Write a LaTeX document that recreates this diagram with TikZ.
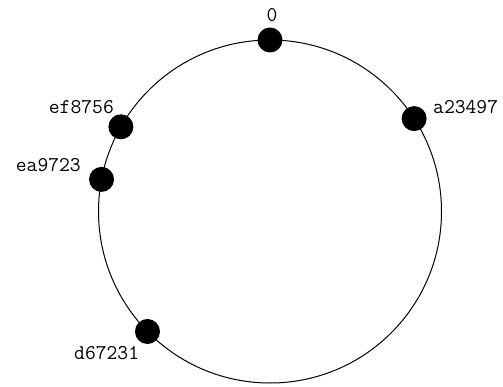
\documentclass[tikz,border=0pt]{standalone}
\usepackage{fontspec}
\usepackage{tikz}
\usetikzlibrary{calc}

\begin{document}
\begin{tikzpicture}[
  x=1pt, y=1pt,
  font=\ttfamily\fontsize{21}{25}\selectfont,
  ring/.style={draw, line width=1pt},
  peer/.style={circle, fill=black, inner sep=0pt, minimum size=25pt},
  tag/.style={inner sep=0pt},
]
\useasboundingbox (0,0) rectangle (503,386);

% ============ Hash ring ============
\coordinate (c) at (270,174.5);
\draw[ring] (c) circle (171.5);

% ============ Peers on the ring ============
\node[peer] (p0) at ($(c)+(90:171.5)$) {};
\node[peer] (pa) at ($(c)+(32.8:171.5)$) {};
\node[peer] (pef) at ($(c)+(150.4:171.5)$) {};
\node[peer] (pea) at ($(c)+(169.2:171.5)$) {};
\node[peer] (pd) at ($(c)+(224.4:171.5)$) {};

% ============ Peer ids ============
\node[tag, anchor=base] (t0) at (272,364.3) {0};
\node[tag, anchor=base west] (ta) at (433,272.7) {a23497};
\node[tag, anchor=base east] (tef) at (114,272.7) {ef8756};
\node[tag, anchor=base east] (tea) at (81,214) {ea9723};
\node[tag, anchor=base west] (td) at (74,27) {d67231};

\end{tikzpicture}
\end{document}
